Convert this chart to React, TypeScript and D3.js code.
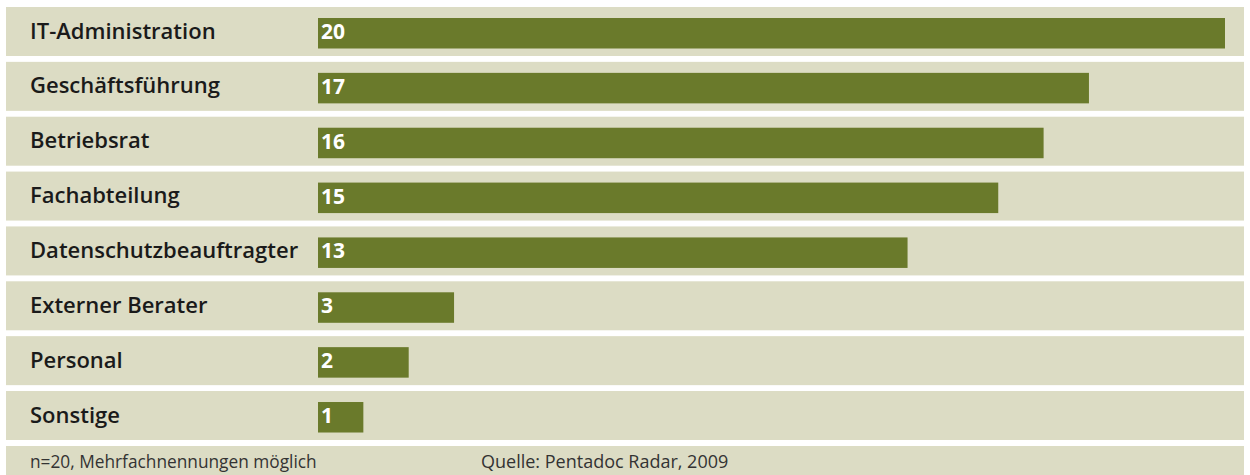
import React from "react";
import * as d3 from "d3";

const categories = [
  "IT-Administration",
  "Geschäftsführung",
  "Betriebsrat",
  "Fachabteilung",
  "Datenschutzbeauftragter",
  "Externer Berater",
  "Personal",
  "Sonstige",
];
const values = [20, 17, 16, 15, 13, 3, 2, 1];
const footerLeft = "n=20, Mehrfachnennungen möglich";
const footerRight = "Quelle: Pentadoc Radar, 2009";

const W = 1250;
const H = 475;
const BAND = "#dcdcc4";
const BAR = "#6a7a2b";

export default function App() {
  const y = d3.scaleBand<string>().domain(categories).range([7, 440]).paddingInner(0.107).paddingOuter(0);
  const x = d3.scaleLinear().domain([0, 20]).range([318, 1225]);
  const font = "'Open Sans', sans-serif";
  return (
    <svg width={W} height={H} style={{ position: "absolute", left: 0, top: 0, background: "#fff" }}>
      {categories.map((c, i) => {
        const top = y(c)!;
        const bw = y.bandwidth();
        return (
          <g key={c}>
            <rect x={6} y={top} width={1238} height={bw} fill={BAND} />
            <rect x={x(0)} y={top + 11} width={x(values[i]) - x(0)} height={30.5} fill={BAR} />
            <text x={30} y={top + 31.5} fontFamily={font} fontWeight={600} fontSize={22} fill="#1a1a1a">
              {c}
            </text>
            <text x={x(0) + 3} y={top + 32} fontFamily={font} fontWeight={700} fontSize={21} fill="#fff">
              {values[i]}
            </text>
          </g>
        );
      })}
      <rect x={6} y={446} width={1238} height={29} fill={BAND} />
      <text x={30} y={468} fontFamily={font} fontSize={17.3} fill="#333">
        {footerLeft}
      </text>
      <text x={481} y={468} fontFamily={font} fontSize={18} fill="#333">
        {footerRight}
      </text>
    </svg>
  );
}
